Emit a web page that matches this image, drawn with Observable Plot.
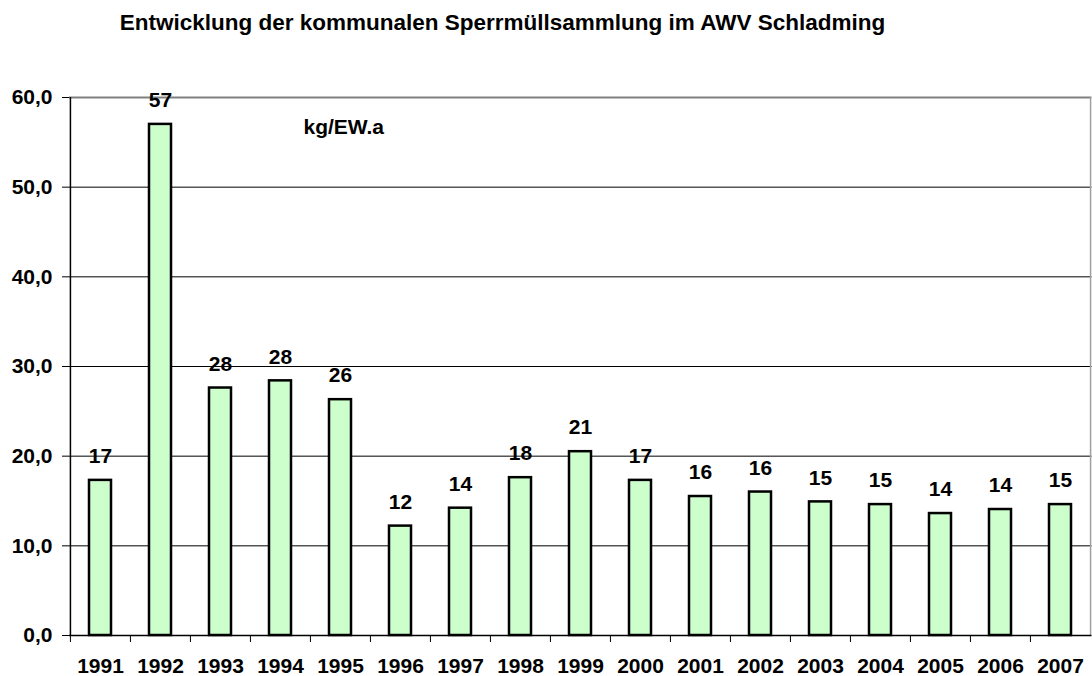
<!DOCTYPE html>
<html><head><meta charset="utf-8">
<script src="https://cdn.jsdelivr.net/npm/d3@7"></script>
<script src="https://cdn.jsdelivr.net/npm/@observablehq/plot@0.6"></script>
<style>
body{margin:0;background:#fff;}
#title{height:60px;box-sizing:border-box;padding-top:12px;width:1005px;text-align:center;font:bold 22.5px "Liberation Sans",Arial,sans-serif;line-height:1;color:#000;white-space:nowrap;}
</style></head><body>
<div id="title">Entwicklung der kommunalen Sperrmüllsammlung im AWV Schladming</div>
<div id="chart"></div>
<script>
const years = ["1991","1992","1993","1994","1995","1996","1997","1998","1999","2000","2001","2002","2003","2004","2005","2006","2007"];
const values = [17.3, 57.0, 27.6, 28.4, 26.3, 12.2, 14.2, 17.6, 20.5, 17.3, 15.5, 16.0, 14.9, 14.6, 13.6, 14.05, 14.6];
const labels = [17, 57, 28, 28, 26, 12, 14, 18, 21, 17, 16, 16, 15, 15, 14, 14, 15];
const yTicks = [0, 10, 20, 30, 40, 50, 60];
const unitNote = ["kg/EW.a"];

const data = years.map((y, i) => ({year: y, value: values[i], label: labels[i]}));
const W = 1092, H = 616, ML = 69, MR = 0.5, MT = 37, MB = 41;
const step = (W - ML - MR) / years.length;
const font = '"Liberation Sans", Arial, sans-serif';

const chart = Plot.plot({
  width: W, height: H,
  marginLeft: ML, marginRight: MR, marginTop: MT, marginBottom: MB,
  style: {fontFamily: font, fontWeight: "bold", fontSize: "21px", color: "#000", background: "#fff", overflow: "visible"},
  x: {domain: years, paddingInner: 0.626, paddingOuter: 0.313, label: null},
  y: {domain: [0, 60], label: null},
  marks: [
    Plot.ruleY(yTicks.filter(t => t > 0 && t < 60), {stroke: "#000", strokeWidth: 1}),
    Plot.ruleY([60], {stroke: "#808080", strokeWidth: 2}),
    Plot.ruleX(years.slice(-1), {x: d => d, dx: step / 2, stroke: "#a0a0a0", strokeWidth: 1.5}),
    Plot.barY(data, {x: "year", y: "value", fill: "#ccffcc", stroke: "#000", strokeWidth: 2.5}),
    Plot.ruleX(years.slice(0, 1), {x: d => d, dx: -step / 2, stroke: "#000", strokeWidth: 1.5}),
    Plot.ruleY([0], {stroke: "#000", strokeWidth: 1.5}),
    Plot.ruleX(years, {x: d => d, y1: 0, y2: 0, insetTop: 0, insetBottom: -7, dx: -step / 2, stroke: "#000", strokeWidth: 1}),
    Plot.axisY(yTicks, {tickSize: 7, tickPadding: 10, tickFormat: d => d.toFixed(1).replace(".", ","), fontSize: 21, fontWeight: "bold", stroke: "#000"}),
    Plot.axisX({tickSize: 0, tickPadding: 23, fontSize: 21, fontWeight: "bold"}),
    Plot.text(data, {x: "year", y: "value", text: "label", dy: -24, fontSize: 21, fontWeight: "bold", fill: "#000"}),
    Plot.text(unitNote, {text: d => d, frameAnchor: "top-left", lineAnchor: "top", textAnchor: "start", dx: 234, dy: 22, fontSize: 21, fontWeight: "bold", fill: "#000"})
  ]
});
document.getElementById("chart").appendChild(chart);
</script>
</body></html>
